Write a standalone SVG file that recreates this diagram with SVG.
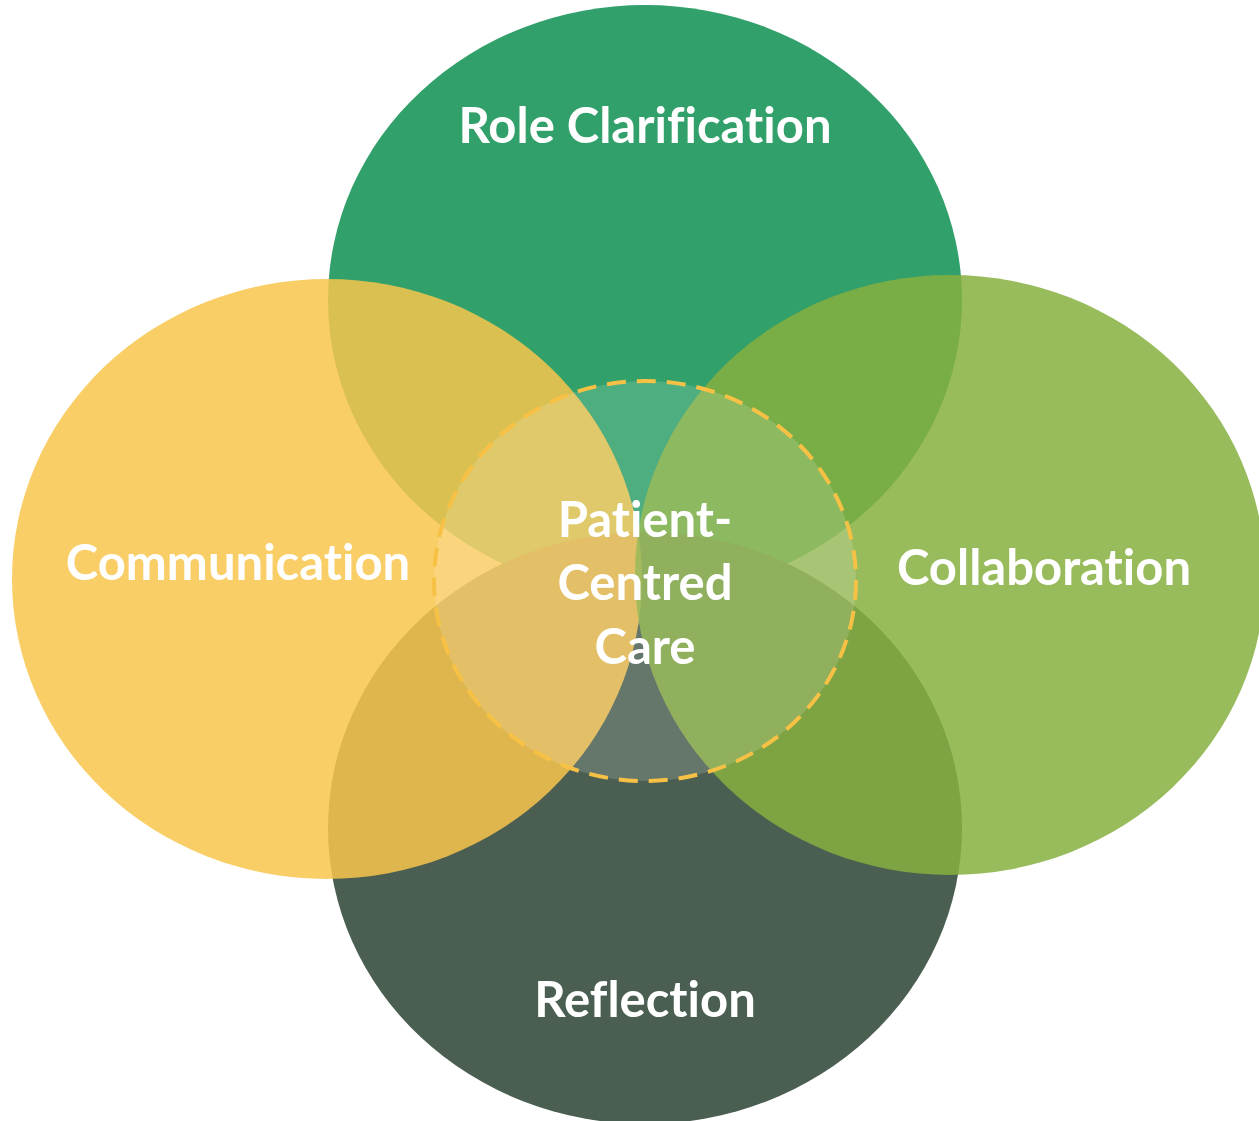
<svg xmlns="http://www.w3.org/2000/svg" width="1259" height="1121" viewBox="0 0 1259 1121">
<style>
.lbl{font-family:Lato,"Open Sans","Liberation Sans",sans-serif;font-weight:bold;font-size:49px;fill:#FFFFFF;text-anchor:middle;font-variant-ligatures:none;font-feature-settings:"liga" 0}
</style>
<rect width="1259" height="1121" fill="#FFFFFF"/>
<g id="role-clarification"><ellipse cx="645" cy="300" rx="317" ry="295" fill="#31A06A"/></g>
<g id="reflection"><ellipse cx="645" cy="828" rx="317" ry="296" fill="#4B5E52"/></g>
<g id="communication"><ellipse cx="327" cy="579" rx="315" ry="300" fill="#F8C64C" fill-opacity="0.85"/></g>
<g id="collaboration"><ellipse cx="950" cy="575" rx="315" ry="300" fill="#86AF40" fill-opacity="0.85"/></g>
<g id="patient-centred-care"><ellipse cx="645" cy="581" rx="211" ry="200" fill="#FFFFFF" fill-opacity="0.15" stroke="#F6C144" stroke-width="4" stroke-dasharray="19 11"/></g>
<g id="labels">
<text class="lbl" x="645" y="143">Role Clarification</text>
<text class="lbl" x="238" y="580">Communication</text>
<text class="lbl" x="1044" y="585">Collaboration</text>
<text class="lbl" x="645" y="1017">Reflection</text>
<text class="lbl" x="645" y="537">Patient-</text>
<text class="lbl" x="645" y="600">Centred</text>
<text class="lbl" x="645" y="664">Care</text>
</g>
<g id="connectors"/>
</svg>
